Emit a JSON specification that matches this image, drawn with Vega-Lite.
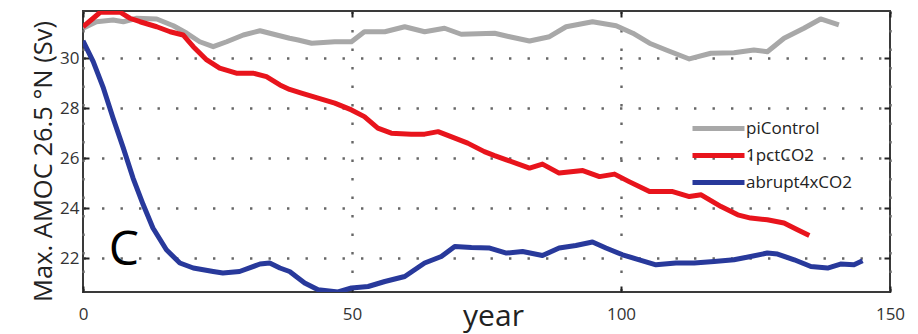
{
  "$schema": "https://vega.github.io/schema/vega-lite/v6.json",
  "width": 807,
  "height": 281,
  "autosize": {"type": "none"},
  "padding": {"left": 83, "top": 11, "right": 28, "bottom": 42},
  "background": "white",
  "config": {
    "font": "Open Sans",
    "view": {"stroke": "#3a3a3a", "strokeWidth": 2},
    "axis": {
      "domain": false,
      "grid": true,
      "gridColor": "#666",
      "gridDash": [2.4, 16.1],
      "gridWidth": 2.4,
      "ticks": true,
      "tickSize": -6,
      "tickColor": "#222",
      "tickWidth": 2,
      "labelFont": "Open Sans",
      "labelFontSize": 17,
      "labelColor": "#333",
      "titleFont": "Open Sans",
      "titleColor": "#222",
      "titleFontWeight": "normal"
    }
  },
  "resolve": {"axis": {"x": "independent", "y": "independent"}},
  "datasets": {
    "series": [
      {"run": "piControl", "year": 0, "value": 31.2},
      {"run": "piControl", "year": 2.5, "value": 31.46},
      {"run": "piControl", "year": 5.6, "value": 31.53},
      {"run": "piControl", "year": 7.5, "value": 31.46},
      {"run": "piControl", "year": 10, "value": 31.6},
      {"run": "piControl", "year": 13.7, "value": 31.57},
      {"run": "piControl", "year": 16.8, "value": 31.3},
      {"run": "piControl", "year": 19.3, "value": 31.0},
      {"run": "piControl", "year": 21.7, "value": 30.66},
      {"run": "piControl", "year": 24.2, "value": 30.46},
      {"run": "piControl", "year": 26.7, "value": 30.66},
      {"run": "piControl", "year": 29.8, "value": 30.93},
      {"run": "piControl", "year": 32.9, "value": 31.1},
      {"run": "piControl", "year": 36, "value": 30.93},
      {"run": "piControl", "year": 38.4, "value": 30.8},
      {"run": "piControl", "year": 40, "value": 30.73},
      {"run": "piControl", "year": 42.5, "value": 30.6},
      {"run": "piControl", "year": 46.8, "value": 30.66},
      {"run": "piControl", "year": 49.9, "value": 30.66},
      {"run": "piControl", "year": 52.3, "value": 31.06},
      {"run": "piControl", "year": 56.1, "value": 31.06},
      {"run": "piControl", "year": 59.8, "value": 31.26},
      {"run": "piControl", "year": 63.5, "value": 31.06},
      {"run": "piControl", "year": 67.2, "value": 31.2},
      {"run": "piControl", "year": 70.3, "value": 30.96},
      {"run": "piControl", "year": 76.5, "value": 31.0},
      {"run": "piControl", "year": 79.3, "value": 30.86},
      {"run": "piControl", "year": 83, "value": 30.69},
      {"run": "piControl", "year": 86.7, "value": 30.86},
      {"run": "piControl", "year": 89.8, "value": 31.26},
      {"run": "piControl", "year": 94.7, "value": 31.46},
      {"run": "piControl", "year": 99.1, "value": 31.3},
      {"run": "piControl", "year": 102.2, "value": 31.0},
      {"run": "piControl", "year": 105.3, "value": 30.6},
      {"run": "piControl", "year": 108.4, "value": 30.33},
      {"run": "piControl", "year": 112.7, "value": 29.97},
      {"run": "piControl", "year": 116.7, "value": 30.2},
      {"run": "piControl", "year": 121, "value": 30.22},
      {"run": "piControl", "year": 124.7, "value": 30.33},
      {"run": "piControl", "year": 127.2, "value": 30.26},
      {"run": "piControl", "year": 130.3, "value": 30.8},
      {"run": "piControl", "year": 134, "value": 31.2},
      {"run": "piControl", "year": 137.1, "value": 31.57},
      {"run": "piControl", "year": 140.5, "value": 31.33},

      {"run": "1pctCO2", "year": 0, "value": 31.26},
      {"run": "1pctCO2", "year": 1.9, "value": 31.6},
      {"run": "1pctCO2", "year": 3.2, "value": 31.84},
      {"run": "1pctCO2", "year": 6.9, "value": 31.84},
      {"run": "1pctCO2", "year": 8.7, "value": 31.6},
      {"run": "1pctCO2", "year": 10.6, "value": 31.46},
      {"run": "1pctCO2", "year": 13.7, "value": 31.26},
      {"run": "1pctCO2", "year": 16.2, "value": 31.06},
      {"run": "1pctCO2", "year": 18.6, "value": 30.93},
      {"run": "1pctCO2", "year": 20.5, "value": 30.46},
      {"run": "1pctCO2", "year": 23, "value": 29.93},
      {"run": "1pctCO2", "year": 25.4, "value": 29.6},
      {"run": "1pctCO2", "year": 28.5, "value": 29.4},
      {"run": "1pctCO2", "year": 31.6, "value": 29.4},
      {"run": "1pctCO2", "year": 34.1, "value": 29.26},
      {"run": "1pctCO2", "year": 36.6, "value": 28.93},
      {"run": "1pctCO2", "year": 38.4, "value": 28.75},
      {"run": "1pctCO2", "year": 40.6, "value": 28.6},
      {"run": "1pctCO2", "year": 43.7, "value": 28.4},
      {"run": "1pctCO2", "year": 46.8, "value": 28.2},
      {"run": "1pctCO2", "year": 49.9, "value": 27.93},
      {"run": "1pctCO2", "year": 52.3, "value": 27.66},
      {"run": "1pctCO2", "year": 54.8, "value": 27.2},
      {"run": "1pctCO2", "year": 57.3, "value": 27.0},
      {"run": "1pctCO2", "year": 61, "value": 26.96},
      {"run": "1pctCO2", "year": 63.5, "value": 26.96},
      {"run": "1pctCO2", "year": 66, "value": 27.06},
      {"run": "1pctCO2", "year": 68.4, "value": 26.86},
      {"run": "1pctCO2", "year": 71.5, "value": 26.6},
      {"run": "1pctCO2", "year": 74.6, "value": 26.26},
      {"run": "1pctCO2", "year": 76.5, "value": 26.1},
      {"run": "1pctCO2", "year": 78.7, "value": 25.93},
      {"run": "1pctCO2", "year": 83, "value": 25.6},
      {"run": "1pctCO2", "year": 85.4, "value": 25.76},
      {"run": "1pctCO2", "year": 88.5, "value": 25.4},
      {"run": "1pctCO2", "year": 92.9, "value": 25.5},
      {"run": "1pctCO2", "year": 96, "value": 25.26},
      {"run": "1pctCO2", "year": 98.8, "value": 25.36},
      {"run": "1pctCO2", "year": 101.5, "value": 25.06},
      {"run": "1pctCO2", "year": 105.3, "value": 24.66},
      {"run": "1pctCO2", "year": 109.6, "value": 24.66},
      {"run": "1pctCO2", "year": 112.7, "value": 24.46},
      {"run": "1pctCO2", "year": 114.9, "value": 24.53},
      {"run": "1pctCO2", "year": 118.6, "value": 24.06},
      {"run": "1pctCO2", "year": 121.7, "value": 23.73},
      {"run": "1pctCO2", "year": 124.1, "value": 23.6},
      {"run": "1pctCO2", "year": 127.2, "value": 23.53},
      {"run": "1pctCO2", "year": 130.3, "value": 23.4},
      {"run": "1pctCO2", "year": 132.8, "value": 23.13},
      {"run": "1pctCO2", "year": 135, "value": 22.9},

      {"run": "abrupt4xCO2", "year": 0, "value": 30.7},
      {"run": "abrupt4xCO2", "year": 1.9, "value": 29.86},
      {"run": "abrupt4xCO2", "year": 3.8, "value": 28.8},
      {"run": "abrupt4xCO2", "year": 5.6, "value": 27.6},
      {"run": "abrupt4xCO2", "year": 7.5, "value": 26.4},
      {"run": "abrupt4xCO2", "year": 9.3, "value": 25.2},
      {"run": "abrupt4xCO2", "year": 11.2, "value": 24.13},
      {"run": "abrupt4xCO2", "year": 13, "value": 23.2},
      {"run": "abrupt4xCO2", "year": 15.5, "value": 22.33},
      {"run": "abrupt4xCO2", "year": 18, "value": 21.8},
      {"run": "abrupt4xCO2", "year": 20.5, "value": 21.6},
      {"run": "abrupt4xCO2", "year": 24.2, "value": 21.46},
      {"run": "abrupt4xCO2", "year": 26, "value": 21.4},
      {"run": "abrupt4xCO2", "year": 29.1, "value": 21.46},
      {"run": "abrupt4xCO2", "year": 32.9, "value": 21.76},
      {"run": "abrupt4xCO2", "year": 34.7, "value": 21.8},
      {"run": "abrupt4xCO2", "year": 36.6, "value": 21.6},
      {"run": "abrupt4xCO2", "year": 38.4, "value": 21.46},
      {"run": "abrupt4xCO2", "year": 41.2, "value": 21.0},
      {"run": "abrupt4xCO2", "year": 43.7, "value": 20.73},
      {"run": "abrupt4xCO2", "year": 47.4, "value": 20.64},
      {"run": "abrupt4xCO2", "year": 49.9, "value": 20.8},
      {"run": "abrupt4xCO2", "year": 53, "value": 20.86},
      {"run": "abrupt4xCO2", "year": 56.1, "value": 21.06},
      {"run": "abrupt4xCO2", "year": 59.8, "value": 21.26},
      {"run": "abrupt4xCO2", "year": 63.5, "value": 21.8},
      {"run": "abrupt4xCO2", "year": 66.6, "value": 22.06},
      {"run": "abrupt4xCO2", "year": 69.1, "value": 22.46},
      {"run": "abrupt4xCO2", "year": 72.2, "value": 22.42},
      {"run": "abrupt4xCO2", "year": 75.6, "value": 22.4},
      {"run": "abrupt4xCO2", "year": 78.7, "value": 22.2},
      {"run": "abrupt4xCO2", "year": 81.7, "value": 22.26},
      {"run": "abrupt4xCO2", "year": 85.4, "value": 22.1},
      {"run": "abrupt4xCO2", "year": 88.5, "value": 22.4},
      {"run": "abrupt4xCO2", "year": 91.6, "value": 22.5},
      {"run": "abrupt4xCO2", "year": 94.7, "value": 22.64},
      {"run": "abrupt4xCO2", "year": 97.2, "value": 22.4},
      {"run": "abrupt4xCO2", "year": 100.3, "value": 22.13},
      {"run": "abrupt4xCO2", "year": 103.4, "value": 21.93},
      {"run": "abrupt4xCO2", "year": 106.5, "value": 21.73},
      {"run": "abrupt4xCO2", "year": 110.2, "value": 21.8},
      {"run": "abrupt4xCO2", "year": 113.6, "value": 21.8},
      {"run": "abrupt4xCO2", "year": 117.3, "value": 21.86},
      {"run": "abrupt4xCO2", "year": 121, "value": 21.93},
      {"run": "abrupt4xCO2", "year": 124.1, "value": 22.06},
      {"run": "abrupt4xCO2", "year": 127.2, "value": 22.2},
      {"run": "abrupt4xCO2", "year": 129.1, "value": 22.16},
      {"run": "abrupt4xCO2", "year": 132.2, "value": 21.93},
      {"run": "abrupt4xCO2", "year": 135.3, "value": 21.66},
      {"run": "abrupt4xCO2", "year": 138.4, "value": 21.6},
      {"run": "abrupt4xCO2", "year": 140.8, "value": 21.76},
      {"run": "abrupt4xCO2", "year": 143.3, "value": 21.73},
      {"run": "abrupt4xCO2", "year": 144.9, "value": 21.89}
    ],
    "panel": [{"label": "C", "year": 7.6, "value": 22.3}]
  },
  "layer": [
    {
      "data": {"name": "series"},
      "mark": {"type": "line", "strokeWidth": 5, "clip": true, "strokeCap": "butt", "strokeJoin": "round"},
      "encoding": {
        "x": {
          "field": "year", "type": "quantitative",
          "scale": {"domain": [0, 150], "nice": false, "zero": false},
          "axis": {
            "title": "year", "values": [0, 50, 100, 150], "labelFlush": false,
            "labelPadding": 20, "titleFontSize": 30, "titleBaseline": "alphabetic", "titleY": 33, "titleX": 410
          }
        },
        "y": {
          "field": "value", "type": "quantitative",
          "scale": {"domain": [20.64, 31.89], "nice": false, "zero": false},
          "axis": {
            "title": "Max. AMOC 26.5 °N (Sv)", "values": [22, 24, 26, 28, 30], "labelFlush": false,
            "labelPadding": 10, "titleFontSize": 25.5, "titleBaseline": "alphabetic", "titleX": -32, "titleY": 150, "titleAngle": 270
          }
        },
        "color": {
          "field": "run", "type": "nominal",
          "scale": {"domain": ["piControl", "1pctCO2", "abrupt4xCO2"], "range": ["#a8a8a8", "#e8141c", "#28399b"]},
          "legend": {
            "title": null, "orient": "none", "legendX": 627, "legendY": 109,
            "symbolType": "M-5.2,0H5.2", "symbolSize": 100, "symbolStrokeWidth": 5,
            "labelFontSize": 17, "labelColor": "#222", "labelOffset": 19, "rowPadding": 6, "padding": 0
          }
        }
      }
    },
    {
      "data": {"name": "series"},
      "mark": {"type": "point", "opacity": 0},
      "encoding": {
        "x": {"field": "year", "type": "quantitative",
          "axis": {"orient": "top", "labels": false, "title": null, "grid": false, "values": [0, 50, 100, 150]}},
        "y": {"field": "value", "type": "quantitative",
          "axis": {"orient": "right", "labels": false, "title": null, "grid": false, "values": [22, 24, 26, 28, 30]}}
      }
    },
    {
      "data": {"name": "panel"},
      "mark": {"type": "text", "fontSize": 48, "font": "Open Sans", "color": "#000", "align": "center", "baseline": "middle"},
      "encoding": {
        "x": {"field": "year", "type": "quantitative", "axis": null},
        "y": {"field": "value", "type": "quantitative", "axis": null},
        "text": {"field": "label"}
      }
    }
  ]
}
